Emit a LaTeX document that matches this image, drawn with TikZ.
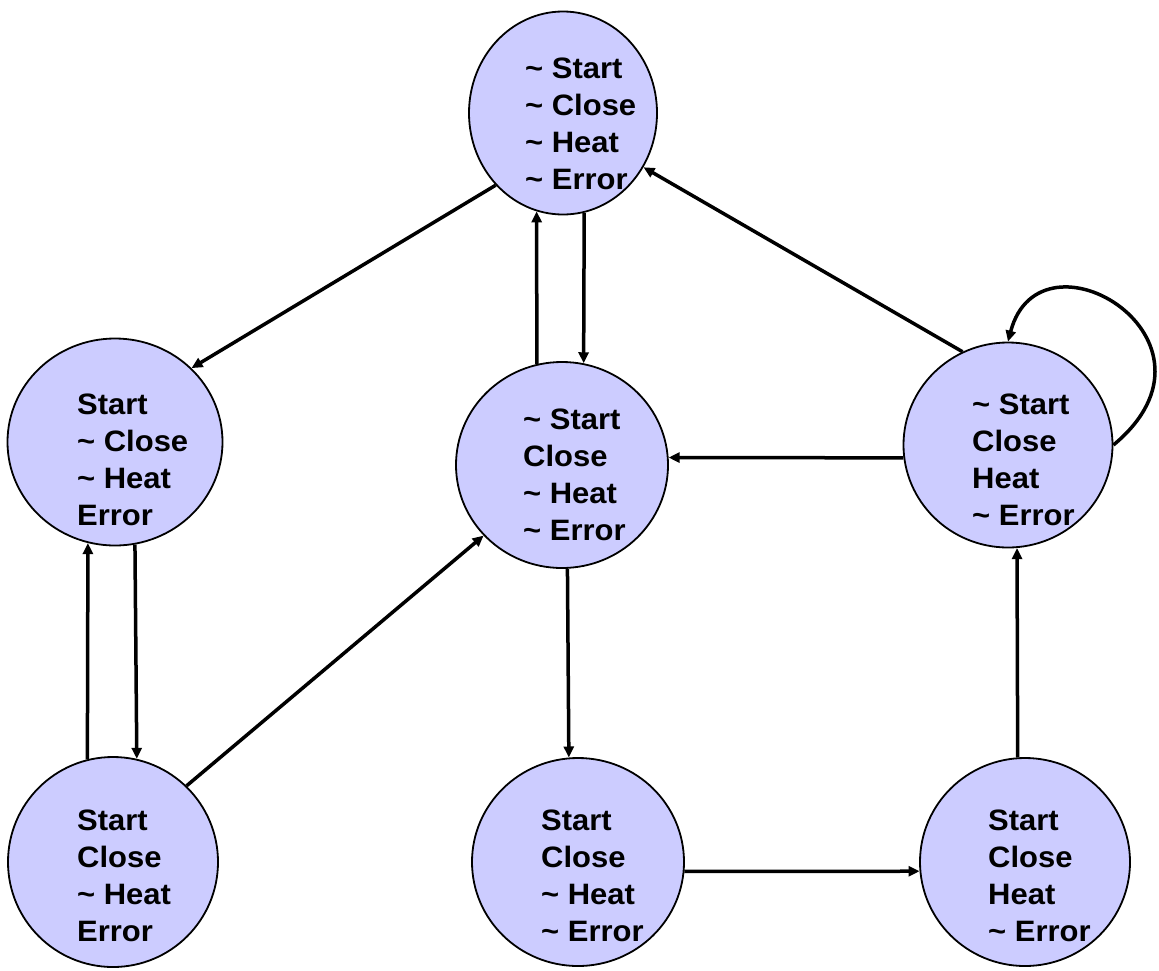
\documentclass[tikz,border=0pt]{standalone}
\usepackage{fontspec}
\setmainfont[FakeStretch=1.05]{Liberation Sans}
\usetikzlibrary{shapes.geometric,arrows.meta}

\tikzset{
    state/.style={ellipse, draw=black, line width=1.8pt, fill=statefill,
        minimum width=210pt, minimum height=206pt, inner sep=0pt},
    statetext/.style={anchor=west, align=left, inner sep=0pt,
        font=\bfseries\fontsize{29.5}{37}\selectfont},
    trans/.style={line width=3.5pt, -{Triangle[length=11pt,width=10pt]}}
}
\definecolor{statefill}{RGB}{204,204,255}

\begin{document}
\begin{tikzpicture}[x=1pt,y=-1pt]
    \useasboundingbox (0,0) rectangle (1159,970);

    % states
    \node[state, minimum width=188pt, minimum height=203pt] (idle) at (563,113) {};
    \node[state, minimum width=215pt, minimum height=207pt] (startErr) at (115,442) {};
    \node[state, minimum width=212pt] (closed) at (562,465) {};
    \node[state, minimum width=209pt, minimum height=205pt] (heating) at (1008,445) {};
    \node[state, minimum height=210pt] (closeErr) at (113,862) {};
    \node[state, minimum width=212pt, minimum height=208pt] (started) at (578,862) {};
    \node[state, minimum height=208pt] (startHeat) at (1025,862) {};

    % state labels
    \node[statetext] (idleTxt) at (525,124) {\textasciitilde{} Start\\\textasciitilde{} Close\\\textasciitilde{} Heat\\\textasciitilde{} Error};
    \node[statetext] (startErrTxt) at (77,460) {Start\\\textasciitilde{} Close\\\textasciitilde{} Heat\\Error};
    \node[statetext] (closedTxt) at (523,475) {\textasciitilde{} Start\\Close\\\textasciitilde{} Heat\\\textasciitilde{} Error};
    \node[statetext] (heatingTxt) at (972,460) {\textasciitilde{} Start\\Close\\Heat\\\textasciitilde{} Error};
    \node[statetext] (closeErrTxt) at (77,876) {Start\\Close\\\textasciitilde{} Heat\\Error};
    \node[statetext] (startedTxt) at (541,876) {Start\\Close\\\textasciitilde{} Heat\\\textasciitilde{} Error};
    \node[statetext] (startHeatTxt) at (988,876) {Start\\Close\\Heat\\\textasciitilde{} Error};

    % transitions
    \draw[trans] (idle.227) -- (startErr.44);
    \draw[trans] (closed.104) -- (idle.255);
    \draw[trans] (idle.282) -- (closed.78);
    \draw[trans] (heating.116) -- (idle.326);
    \draw[trans] (heating.0) .. controls (1240,340) and (1040,220) .. (heating.90);
    \draw[trans] (heating.187) -- (closed.4);
    \draw[trans] (closed.273) -- (started.95);
    \draw[trans] (started.355) -- (startHeat.185);
    \draw[trans] (startHeat.94) -- (heating.275);
    \draw[trans] (closeErr.104) -- (startErr.255);
    \draw[trans] (startErr.281) -- (closeErr.77);
    \draw[trans] (closeErr.46) -- (closed.222);
\end{tikzpicture}
\end{document}
